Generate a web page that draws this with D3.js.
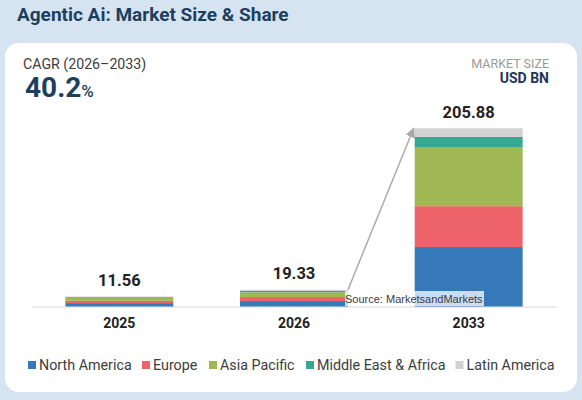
<!DOCTYPE html>
<html lang="en">
<head>
  <meta charset="UTF-8">
  <title>Agentic Ai: Market Size & Share</title>
  <script src="https://d3js.org/d3.v7.min.js"></script>
  <style>
    html, body { margin: 0; padding: 0; background: #d6e4f1; }
    svg { display: block; font-family: Roboto, sans-serif; }
  </style>
</head>
<body>
  <svg id="canvas" width="582" height="400"></svg>

  <script>
    let years = ["2025", "2026", "2033"];
    let totals = [11.56, 19.33, 205.88];
    let regions = ["North America", "Europe", "Asia Pacific", "Middle East & Africa", "Latin America"];
    let northAmerica = [3.9, 6.3, 68.7];
    let europe = [2.7, 4.6, 47.2];
    let asiaPacific = [3.3, 5.6, 68.4];
    let middleEastAfrica = [0.9, 1.6, 11.6];
    let latinAmerica = [0.76, 1.23, 9.98];
    let colors = ["#3679b8", "#ee626a", "#a0b854", "#37a78f", "#d2d2d2"];

    let canvas = d3.select("#canvas");

    // page title and white card
    canvas.append("text").attr("x", 17).attr("y", 20.5)
      .attr("font-size", 19).attr("font-weight", 700).attr("fill", "#1d3f5f")
      .text("Agentic Ai: Market Size & Share");
    canvas.append("rect").attr("x", 5).attr("y", 43).attr("width", 572).attr("height", 349)
      .attr("rx", 14).attr("fill", "#fff");

    canvas.append("text").attr("x", 23).attr("y", 69)
      .attr("font-size", 14.2).attr("fill", "#3d3d3d").text("CAGR (2026\u20132033)");
    let cagr = canvas.append("text").attr("x", 25).attr("y", 97).attr("fill", "#1d3f5f");
    cagr.append("tspan").attr("font-size", 28).attr("font-weight", 700).text("40.2");
    cagr.append("tspan").attr("font-size", 17).attr("font-weight", 500).text("%");

    canvas.append("text").attr("x", 549).attr("y", 68).attr("text-anchor", "end")
      .attr("font-size", 12.5).attr("fill", "#9a9a9a").text("MARKET SIZE");
    canvas.append("text").attr("x", 549).attr("y", 83).attr("text-anchor", "end")
      .attr("font-size", 14).attr("font-weight", 700).attr("fill", "#1d3557").text("USD BN");

    // scales
    let x = d3.scaleBand().domain(years).range([32, 556]).paddingInner(0.382).paddingOuter(0.191);
    let y = d3.scaleLinear().domain([0, 205.88]).range([306.5, 128.3]);
    let color = d3.scaleOrdinal().domain(regions).range(colors);

    let rows = years.map((year, i) => ({
      year: year,
      "North America": northAmerica[i],
      "Europe": europe[i],
      "Asia Pacific": asiaPacific[i],
      "Middle East & Africa": middleEastAfrica[i],
      "Latin America": latinAmerica[i]
    }));
    let stacked = d3.stack().keys(regions)(rows);

    // axis
    let axis = canvas.append("g").attr("transform", "translate(0,306.5)")
      .call(d3.axisBottom(x).tickSize(0).tickPadding(12));
    axis.select(".domain").attr("stroke", "#e6e6e6").attr("stroke-width", 1.5);
    axis.selectAll("text").attr("font-size", 14).attr("font-weight", 700)
      .attr("font-family", "Roboto, sans-serif").attr("fill", "#222");

    // stacked bars
    canvas.selectAll("g.series").data(stacked).enter().append("g")
      .attr("class", "series")
      .attr("fill", d => color(d.key))
      .selectAll("rect").data(d => d).enter().append("rect")
      .attr("x", d => x(d.data.year))
      .attr("y", d => y(d[1]))
      .attr("width", x.bandwidth())
      .attr("height", d => y(d[0]) - y(d[1]));

    // totals
    canvas.selectAll("text.total").data(years).enter().append("text")
      .attr("class", "total")
      .attr("x", d => x(d) + x.bandwidth() / 2)
      .attr("y", (d, i) => y(totals[i]) - (i == 1 ? 11 : 10))
      .attr("text-anchor", "middle")
      .attr("font-size", 16.5).attr("font-weight", 700).attr("fill", "#222")
      .text((d, i) => d3.format(".2f")(totals[i]));

    // growth arrow from the top of 2026 to the top of 2033
    let arrowStart = [x("2026") + x.bandwidth(), y(totals[1])];
    let arrowEnd = [x("2033") - 1, y(totals[2])];
    canvas.append("defs").append("marker").attr("id", "head")
      .attr("viewBox", "0 0 10 10").attr("refX", 9).attr("refY", 5)
      .attr("markerWidth", 10).attr("markerHeight", 10)
      .attr("markerUnits", "userSpaceOnUse").attr("orient", "auto")
      .append("path").attr("d", "M0,0L10,5L0,10Z").attr("fill", "#a8a8a8");
    canvas.append("line")
      .attr("x1", arrowStart[0]).attr("y1", arrowStart[1])
      .attr("x2", arrowEnd[0]).attr("y2", arrowEnd[1])
      .attr("stroke", "#ababab").attr("stroke-width", 1.5)
      .attr("marker-end", "url(#head)");

    // source tag sits over the bars, see-through white
    canvas.append("rect").attr("x", 345).attr("y", 291).attr("width", 139).attr("height", 15)
      .attr("fill", "#fff").attr("fill-opacity", 0.75);
    canvas.append("text").attr("x", 345).attr("y", 302.5)
      .attr("font-family", "'Liberation Sans', sans-serif")
      .attr("font-size", 11).attr("fill", "#3a3a4a").text("Source: MarketsandMarkets");

    // legend
    let legendX = [28, 142, 209, 306, 455.5];
    let legend = canvas.selectAll("g.legend").data(regions).enter().append("g")
      .attr("class", "legend")
      .attr("transform", (d, i) => "translate(" + legendX[i] + ",364.5)");
    legend.append("rect").attr("y", -3.5).attr("width", 8).attr("height", 8).attr("fill", d => color(d));
    legend.append("text").attr("x", 11).attr("y", 5.5)
      .attr("font-size", 14.3).attr("fill", "#3d3d3d").text(d => d);
  </script>
</body>
</html>
